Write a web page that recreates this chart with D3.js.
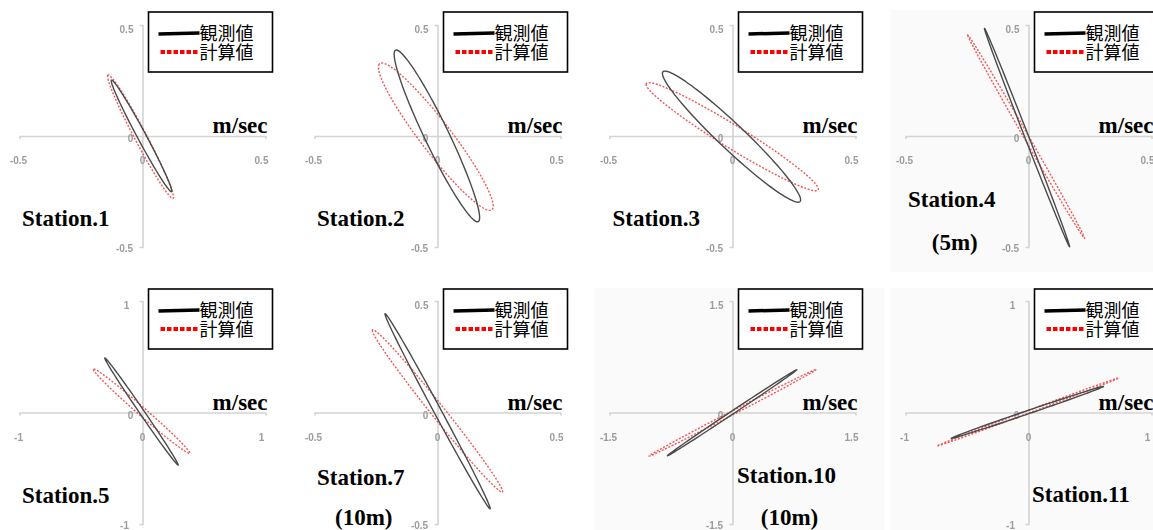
<!DOCTYPE html>
<html>
<head>
<meta charset="utf-8">
<script src="https://cdn.jsdelivr.net/npm/d3@7"></script>
<style>
  html, body { margin: 0; padding: 0; background: #ffffff; }
  svg { display: block; }
</style>
</head>
<body>
<svg id="chart" width="1153" height="530"></svg>
<script>
// ---- data ----------------------------------------------------------------
// Tidal current ellipses (east / north velocity, m/sec) at each station.
const stations = ["Station.1", "Station.2", "Station.3", "Station.4",
                  "Station.5", "Station.7", "Station.10", "Station.11"];
const depthNotes = ["", "", "", "(5m)", "", "(10m)", "(10m)", ""];

// axis half-range for each station panel (m/sec)
const axisRange = [0.5, 0.5, 0.5, 0.5, 1, 0.5, 1.5, 1];
const tickLabels = [
  ["-0.5", "0", "0.5"], ["-0.5", "0", "0.5"], ["-0.5", "0", "0.5"], ["-0.5", "0", "0.5"],
  ["-1", "0", "1"], ["-0.5", "0", "0.5"], ["-1.5", "0", "1.5"], ["-1", "0", "1"]
];

// observed ellipses: both ends of the major axis [u, v] and the minor semi-axis
const obsEndA  = [[-0.126, 0.252], [-0.170, 0.387], [-0.282, 0.290], [-0.179, 0.485],
                  [-0.306, 0.489], [-0.213, 0.443], [0.784, 0.576], [0.610, 0.234]];
const obsEndB  = [[0.118, -0.251], [0.165, -0.386], [0.274, -0.296], [0.167, -0.499],
                  [0.290, -0.472], [0.214, -0.432], [-0.793, -0.581], [-0.628, -0.232]];
const obsMinor = [0.018, 0.050, 0.055, 0.008, 0.020, 0.015, 0.020, 0.015];

// computed ellipses
const calEndA  = [[-0.140, 0.275], [-0.234, 0.327], [-0.350, 0.237], [-0.247, 0.455],
                  [-0.400, 0.390], [-0.264, 0.371], [1.016, 0.576], [0.732, 0.309]];
const calEndB  = [[0.124, -0.281], [0.220, -0.333], [0.348, -0.243], [0.228, -0.461],
                  [0.385, -0.367], [0.264, -0.357], [-1.017, -0.586], [-0.745, -0.301]];
const calMinor = [0.025, 0.065, 0.050, 0.010, 0.035, 0.028, 0.025, 0.012];

const legendNames = ["観測値", "計算値"];
const unitLabel = "m/sec";

// ---- layout --------------------------------------------------------------
const colCenters = [142.5, 437.5, 732.5, 1028.5];
const rowCenters = [136, 414];
const halfW = 123;
const rowHalfUp = [111, 113];
const rowHalfDown = [111, 110];
const tintedPanels = [3, 6, 7];
// station label placement relative to the panel origin: [dx, dy, dyNote]
const labelPlace = [
  [-120.5, 90, 0], [-120.5, 90, 0], [-120, 90, 0], [-120.5, 71, 114],
  [-120.5, 89, 0], [-120.5, 71, 111], [4.5, 69, 111], [3.5, 88, 0]
];

const svg = d3.select("#chart");
const defs = svg.append("defs");
defs.append("filter").attr("id", "soft")
  .attr("x", "-20%").attr("y", "-30%").attr("width", "140%").attr("height", "160%")
  .append("feGaussianBlur").attr("stdDeviation", 0.6);

const serif = "'Liberation Serif', 'Times New Roman', serif";
const cjk = "'Noto Sans CJK JP', 'Noto Sans', sans-serif";

function ellipsePoints(a, b, minor) {
  const cu = (a[0] + b[0]) / 2, cv = (a[1] + b[1]) / 2;
  const mu = (a[0] - b[0]) / 2, mv = (a[1] - b[1]) / 2;
  const len = Math.hypot(mu, mv);
  const nu = -mv / len, nv = mu / len;
  return d3.range(0, 96).map(k => {
    const t = (k / 96) * 2 * Math.PI;
    return [cu + Math.cos(t) * mu + Math.sin(t) * minor * nu,
            cv + Math.cos(t) * mv + Math.sin(t) * minor * nv];
  });
}

stations.forEach((name, i) => {
  const col = i % 4, row = Math.floor(i / 4);
  const cx = colCenters[col], cy = rowCenters[row];
  const R = axisRange[i];

  const x = d3.scaleLinear().domain([-R, R]).range([cx - halfW, cx + halfW]);
  const y = d3.scaleLinear().domain([-R, R]).range([cy + rowHalfDown[row], cy - rowHalfUp[row]]);

  const g = svg.append("g");

  if (tintedPanels.includes(i)) {
    g.append("rect")
      .attr("x", cx - 138).attr("y", cy - 126)
      .attr("width", 290).attr("height", 262)
      .attr("fill", "#fafafa");
  }

  // axes crossing at the origin
  const xAxis = d3.axisBottom(x).tickValues([]).tickSizeOuter(3);
  const yAxis = d3.axisLeft(y).tickValues([]).tickSizeOuter(3);
  g.append("g").attr("transform", `translate(0,${y(0)})`).call(xAxis)
    .call(s => s.select(".domain").attr("stroke", "#d4d4d4").attr("stroke-width", 1.6));
  g.append("g").attr("transform", `translate(${x(0)},0)`).call(yAxis)
    .call(s => s.select(".domain").attr("stroke", "#d4d4d4").attr("stroke-width", 1.6));

  // small grey tick labels
  const tl = tickLabels[i];
  const tickG = g.append("g")
    .attr("font-family", "'Liberation Sans', sans-serif")
    .attr("font-size", 10).attr("font-weight", "bold")
    .attr("fill", "#9c9c9c").attr("text-anchor", "middle")
    .attr("filter", "url(#soft)");
  tickG.append("text").attr("x", x(-R) - 1).attr("y", y(0) + 28).text(tl[0]);
  tickG.append("text").attr("x", x(0)).attr("y", y(0) + 28).text(tl[1]);
  tickG.append("text").attr("x", x(R) - 4).attr("y", y(0) + 28).text(tl[2]);
  tickG.append("text").attr("x", x(0) - 16).attr("y", y(R) + 8).text(tl[2]);
  tickG.append("text").attr("x", x(0) - 12).attr("y", y(0) + 6).text(tl[1]);
  tickG.append("text").attr("x", x(0) - 18).attr("y", y(-R) + 5).text(tl[0]);

  const line = d3.line().x(d => x(d[0])).y(d => y(d[1])).curve(d3.curveCardinalClosed);

  // computed ellipse (red dotted)
  g.append("path")
    .attr("d", line(ellipsePoints(calEndA[i], calEndB[i], calMinor[i])))
    .attr("fill", "none").attr("stroke", "#f03a3a")
    .attr("stroke-width", 1.4).attr("stroke-dasharray", "2,1.6")
    .attr("opacity", 0.85);

  // observed ellipse
  g.append("path")
    .attr("d", line(ellipsePoints(obsEndA[i], obsEndB[i], obsMinor[i])))
    .attr("fill", "none").attr("stroke", "#4a4a4a")
    .attr("stroke-width", 1.4);

  // unit label
  g.append("text")
    .attr("x", x(R) + 2).attr("y", y(0) - 3)
    .attr("text-anchor", "end")
    .attr("font-family", serif).attr("font-weight", "bold").attr("font-size", 23)
    .attr("fill", "#000").text(unitLabel);

  // station label
  const lp = labelPlace[i];
  const st = g.append("text")
    .attr("x", cx + lp[0]).attr("y", cy + lp[1])
    .attr("font-family", serif).attr("font-weight", "bold").attr("font-size", 23)
    .attr("fill", "#000").text(name);
  if (depthNotes[i]) {
    const w = st.node().getComputedTextLength();
    g.append("text")
      .attr("x", cx + lp[0] + w / 2 + 3).attr("y", cy + lp[2])
      .attr("text-anchor", "middle")
      .attr("font-family", serif).attr("font-weight", "bold").attr("font-size", 23)
      .attr("fill", "#000").text(depthNotes[i]);
  }

  // legend
  const lx = x(0) + 6, ly = cy - 124 - row;
  const lg = g.append("g").attr("transform", `translate(${lx},${ly})`);
  lg.append("rect").attr("x", 0).attr("y", 0).attr("width", 124).attr("height", 60)
    .attr("fill", "#fff").attr("stroke", "#000").attr("stroke-width", 1.6);
  lg.append("line").attr("x1", 10).attr("x2", 51).attr("y1", 22).attr("y2", 21)
    .attr("stroke", "#000").attr("stroke-width", 3.5);
  lg.append("line").attr("x1", 12).attr("x2", 50).attr("y1", 40).attr("y2", 40)
    .attr("stroke", "#ff0000").attr("stroke-width", 4).attr("stroke-dasharray", "4.5,2");
  lg.selectAll("text.lab").data(legendNames).join("text")
    .attr("class", "lab")
    .attr("x", 51).attr("y", (d, k) => 28 + k * 19)
    .attr("font-family", cjk).attr("font-size", 18).attr("fill", "#000")
    .text(d => d);
});
</script>
</body>
</html>
